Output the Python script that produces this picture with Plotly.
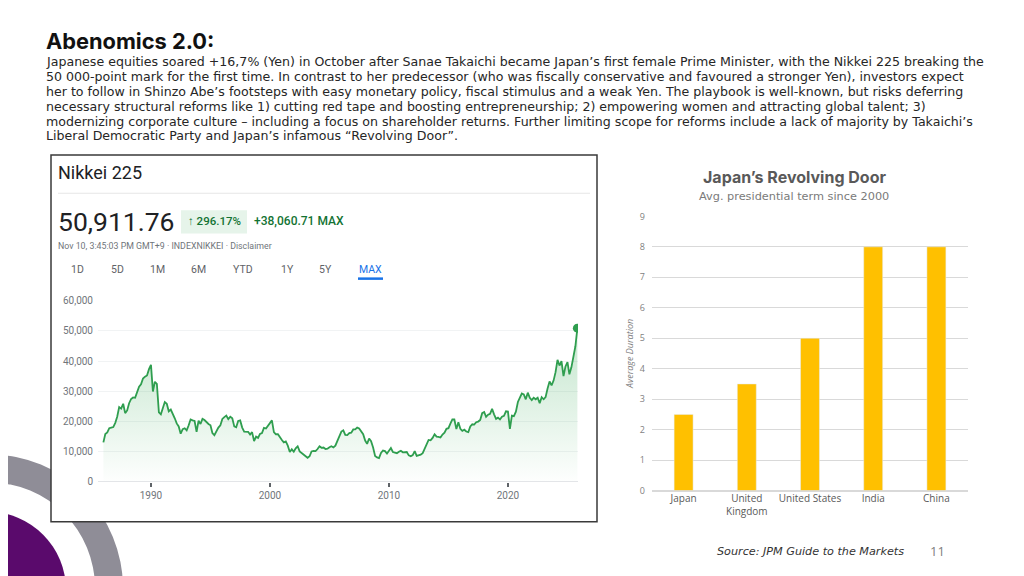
import plotly.graph_objects as go
import pandas as pd

# the page shows the plot 8px in from the left and 16px down, and the shot is
# squeezed from 592 to 576 rows; positions below are in slide pixels and
# px()/py() turn them into paper fractions of the figure
W, H = 1024, 576
OFF_X, OFF_Y = 8, 16
SQUEEZE = 576 / 592
FW, FH = W - OFF_X, 576


def px(x):
    return (x - OFF_X) / FW


def py(y):
    return 1 - (y / SQUEEZE - OFF_Y) / FH


# Nikkei 225, every two months (Jan, Mar, May, Jul, Sep, Nov)
nikkei_80s = [
    13000, 15800, 16300, 17700, 17900, 18100,
    19500, 21500, 24700, 24200, 25800, 22700,
    23600, 26000, 27400, 27900, 27800, 29400,
    31500, 32300, 34200, 34800, 35200, 37300,
]
nikkei_90s = [
    38700, 29900, 33100, 32400, 23000, 22300,
    24300, 26400, 25800, 23300, 23900, 22700,
    21000, 19300, 18300, 15900, 17400, 17700,
    17000, 18600, 20600, 20300, 20100, 16500,
    20200, 19100, 20800, 20400, 19600, 19100,
    18700, 16100, 15400, 16700, 17900, 18700,
    20800, 21400, 21900, 20700, 21500, 21000,
    18300, 18000, 20100, 20300, 17900, 16600,
    16600, 16500, 15600, 16400, 13400, 14900,
    14500, 15800, 16100, 17800, 17600, 18500,
]
nikkei_00s = [
    19500, 20300, 16400, 15700, 15700, 14600,
    13800, 13000, 13300, 11900, 9800, 10700,
    9900, 11000, 11700, 10000, 9400, 8800,
    8300, 7900, 8400, 10000, 10200, 10100,
    10800, 11700, 11200, 11300, 10800, 10900,
    11400, 11700, 11300, 11900, 13500, 14900,
    16600, 17000, 15500, 15400, 16100, 16200,
    17300, 17300, 17900, 17600, 16800, 15700,
    13600, 12500, 14300, 13400, 11300, 8500,
    8000, 7800, 9500, 10300, 10100, 9300,
]
nikkei_10s = [
    10200, 11100, 9800, 9500, 9400, 9900,
    10200, 9700, 9700, 9800, 8700, 8400,
    8800, 10100, 8500, 8700, 8900, 9400,
    11100, 12400, 13800, 13700, 14500, 15700,
    14900, 14800, 14600, 15600, 16200, 17500,
    17700, 19200, 20600, 20600, 17400, 19700,
    17500, 16800, 17200, 16600, 16400, 18300,
    19000, 18900, 19700, 19900, 20400, 22700,
    23100, 21500, 22200, 22500, 24100, 22300,
    20800, 21200, 20600, 21500, 21800, 23300,
]
nikkei_20s = [
    23200, 17500, 21900, 21700, 23200, 26400,
    27700, 29200, 28900, 27300, 29500, 27800,
    27000, 27800, 27300, 27800, 26000, 28000,
    27300, 28000, 30900, 33200, 31900, 33500,
    36300, 40400, 38500, 40000, 35000, 38200,
    39600, 35600, 37900, 41000, 44900, 50911.76,
]
nikkei = nikkei_80s + nikkei_90s + nikkei_00s + nikkei_10s + nikkei_20s
nikkei_dates = pd.date_range("1986-01-01", periods=len(nikkei), freq="2MS")

nikkei_yticks = [0, 10000, 20000, 30000, 40000, 50000, 60000]
nikkei_xticks = ["1990-01-01", "2000-01-01", "2010-01-01", "2020-01-01"]
range_buttons = ["1D", "5D", "1M", "6M", "YTD", "1Y", "5Y", "MAX"]

# Japan's Revolving Door
countries = ["Japan", "United<br>Kingdom", "United States", "India", "China"]
avg_term = [2.5, 3.5, 5, 8, 8]

paragraph = [
    "Japanese equities soared +16,7% (Yen) in October after Sanae Takaichi became Japan’s first female Prime Minister, with the Nikkei 225 breaking the",
    "50 000-point mark for the first time. In contrast to her predecessor (who was fiscally conservative and favoured a stronger Yen), investors expect",
    "her to follow in Shinzo Abe’s footsteps with easy monetary policy, fiscal stimulus and a weak Yen. The playbook is well-known, but risks deferring",
    "necessary structural reforms like 1) cutting red tape and boosting entrepreneurship; 2) empowering women and attracting global talent; 3)",
    "modernizing corporate culture – including a focus on shareholder returns. Further limiting scope for reforms include a lack of majority by Takaichi’s",
    "Liberal Democratic Party and Japan’s infamous “Revolving Door”.",
]

green = "#2f9e4f"

fig = go.Figure()

fig.add_trace(go.Scatter(
    x=nikkei_dates, y=nikkei, mode="lines",
    line=dict(color=green, width=1.8),
    fill="tozeroy",
    fillgradient=dict(type="vertical", start=0, stop=52000,
                      colorscale=[[0, "rgba(52,168,83,0)"], [1, "rgba(52,168,83,0.30)"]]),
    xaxis="x", yaxis="y", showlegend=False, hoverinfo="skip",
))
fig.add_trace(go.Scatter(
    x=[nikkei_dates[-1]], y=[nikkei[-1]], mode="markers",
    marker=dict(color=green, size=9),
    xaxis="x", yaxis="y", showlegend=False,
))

fig.add_trace(go.Bar(
    x=countries, y=avg_term, marker_color="#FFC000",
    xaxis="x2", yaxis="y2", showlegend=False,
))

# decorative shapes (bottom left) and the panel box
shapes = []


def circle(cx, cy, r, color):
    return dict(type="circle", xref="paper", yref="paper",
                x0=px(cx - r), x1=px(cx + r), y0=py(cy + r), y1=py(cy - r),
                fillcolor=color, line=dict(width=0), layer="below")


shapes.append(circle(-10, 586, 133, "#8f8d97"))
shapes.append(circle(-10, 586, 105, "white"))
shapes.append(circle(-12, 588, 78, "#5a0a6c"))
shapes.append(dict(type="rect", xref="paper", yref="paper",
                   x0=px(51), x1=px(597), y0=py(520), y1=py(155),
                   fillcolor="white", line=dict(color="#3a3a3a", width=1.5), layer="below"))
shapes.append(dict(type="line", xref="paper", yref="paper",
                   x0=px(58), x1=px(590), y0=py(193), y1=py(193),
                   line=dict(color="#e6e6e6", width=1), layer="below"))
shapes.append(dict(type="rect", xref="paper", yref="paper",
                   x0=px(181), x1=px(247), y0=py(233), y1=py(210),
                   fillcolor="#e6f4ea", line=dict(width=0), layer="below"))
shapes.append(dict(type="line", xref="paper", yref="paper",
                   x0=px(358), x1=px(383), y0=py(278), y1=py(278),
                   line=dict(color="#1a73e8", width=2.5)))

annotations = []


def text(x, y, s, size, color, family="DejaVu Sans", anchor="left", weight="normal", style="normal"):
    annotations.append(dict(
        x=px(x), y=py(y), xref="paper", yref="paper", text=s, showarrow=False,
        xanchor=anchor, yanchor="middle",
        font=dict(size=size, color=color, family=family, weight=weight, style=style),
    ))


text(44, 41, "Abenomics 2.0:", 21.8, "#111111", family="Inter", weight="bold")
for i, line in enumerate(paragraph):
    text(44, 61.5 + i * 14.9, line, 12.6, "#262626")

text(56, 172, "Nikkei 225", 18, "#202124", family="Roboto")
text(56, 221, "50,911.76", 26.5, "#202124", family="Roboto")
text(214, 221, "↑ 296.17%", 11.5, "#137333", family="Roboto", anchor="center", weight=500)
text(252, 221, "+38,060.71 MAX", 12, "#137333", family="Roboto", weight=500)
text(56, 246, "Nov 10, 3:45:03 PM GMT+9 · INDEXNIKKEI · Disclaimer", 8.8, "#70757a", family="Roboto")
button_x = [77, 117, 157, 198, 243, 287, 325, 370]
for bx, b in zip(button_x, range_buttons):
    text(bx, 269, b, 10.5, "#1a73e8" if b == "MAX" else "#5f6368", family="Roboto", anchor="center")

text(794, 177, "Japan’s Revolving Door", 16, "#595959", family="Inter", anchor="center", weight="bold")
text(794, 196, "Avg. presidential term since 2000", 11.3, "#7a7a7a", anchor="center")
annotations.append(dict(
    x=px(630), y=py(353), xref="paper", yref="paper", text="Average Duration",
    showarrow=False, textangle=-90, xanchor="center", yanchor="middle",
    font=dict(size=9, color="#7f7f7f", family="Open Sans", style="italic"),
))
text(810, 550, "Source: JPM Guide to the Markets", 11.2, "#333333", anchor="center", style="italic")
text(937, 549, "11", 13, "#7f7f7f", family="Open Sans", anchor="center")

fig.update_layout(
    width=FW, height=FH,
    margin=dict(l=0, r=0, t=0, b=0),
    paper_bgcolor="white",
    plot_bgcolor="rgba(0,0,0,0)",
    shapes=shapes,
    annotations=annotations,
    bargap=0.7,
    xaxis=dict(
        domain=[px(98), px(578)], anchor="y",
        type="date", range=["1985-07-20", "2025-11-20"],
        tickvals=nikkei_xticks, tickformat="%Y",
        ticks="outside", ticklen=4, tickwidth=1.5, tickcolor="#5f6368",
        showgrid=False, showline=False, zeroline=False,
        tickfont=dict(family="Roboto", size=10, color="#70757a"),
    ),
    yaxis=dict(
        domain=[py(480), py(300)], anchor="x",
        range=[0, 60000], tickvals=nikkei_yticks, tickformat=",d",
        gridcolor="#f1f3f4", zeroline=True, zerolinecolor="#e3e5e8", zerolinewidth=1,
        ticklabelstandoff=4,
        tickfont=dict(family="Roboto", size=10, color="#70757a"),
    ),
    xaxis2=dict(
        domain=[px(652), px(968)], anchor="y2",
        showgrid=False, showline=False, ticks="",
        tickfont=dict(family="Open Sans", size=10, color="#595959"),
    ),
    yaxis2=dict(
        domain=[py(489), py(216)], anchor="x2",
        range=[0, 9], dtick=1,
        gridcolor="#d9d9d9", zeroline=True, zerolinecolor="#d9d9d9",
        ticklabelstandoff=6,
        tickfont=dict(family="Open Sans", size=9, color="#7f7f7f"),
    ),
)

fig.write_html("out.html")
